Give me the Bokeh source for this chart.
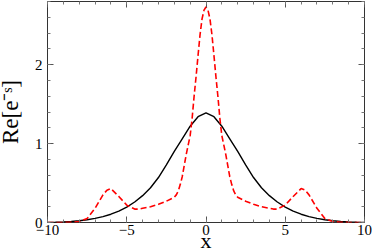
from bokeh.plotting import figure
from bokeh.models import LinearAxis, SingleIntervalTicker
from bokeh.embed import file_html
from bokeh.resources import INLINE

# ---- data ----
x_black = [-10, -9.5, -9, -8.5, -8, -7.5, -7, -6.5, -6, -5.5, -5, -4.5, -4, -3.5, -3, -2.5, -2, -1.5, -1, -0.5,
           0, 0.5, 1, 1.5, 2, 2.5, 3, 3.5, 4, 4.5, 5, 5.5, 6, 6.5, 7, 7.5, 8, 8.5, 9, 9.5, 10]
y_black = [0.001, 0.003, 0.007, 0.013, 0.022, 0.035, 0.052, 0.075, 0.105, 0.145, 0.195, 0.26, 0.34, 0.44, 0.57, 0.73, 0.90, 1.06, 1.22, 1.34,
           1.39, 1.34, 1.22, 1.06, 0.90, 0.73, 0.57, 0.44, 0.34, 0.26, 0.195, 0.145, 0.105, 0.075, 0.052, 0.035, 0.022, 0.013, 0.007, 0.003, 0.001]

x_red = [-10, -9, -8.5, -8, -7.5, -7, -6.5, -6.25, -6, -5.5, -5, -4.5, -4.25, -4, -3.5, -3, -2.5, -2, -1.875, -1.75, -1.625, -1.5,
         -1.375, -1.25, -1.125, -1, -0.875, -0.75, -0.625, -0.5, -0.375, -0.25, -0.125, 0,
         0.125, 0.25, 0.375, 0.5, 0.625, 0.75, 0.875, 1, 1.125, 1.25, 1.375, 1.5, 1.625, 1.75, 1.875, 2,
         2.5, 3, 3.5, 4, 4.25, 4.5, 5, 5.5, 6, 6.25, 6.5, 7, 7.5, 8, 8.5, 9, 10]
y_red = [0.0, 0.001, 0.004, 0.012, 0.05, 0.18, 0.35, 0.41, 0.43, 0.33, 0.22, 0.17, 0.17, 0.18, 0.20, 0.23, 0.27, 0.32, 0.35, 0.40, 0.48, 0.58,
         0.72, 0.86, 0.98, 1.10, 1.32, 1.60, 1.85, 2.12, 2.38, 2.58, 2.69, 2.73,
         2.69, 2.58, 2.38, 2.12, 1.85, 1.60, 1.32, 1.10, 0.98, 0.86, 0.72, 0.58, 0.48, 0.40, 0.35, 0.32,
         0.27, 0.23, 0.20, 0.18, 0.17, 0.17, 0.22, 0.33, 0.43, 0.41, 0.35, 0.18, 0.05, 0.012, 0.004, 0.001, 0.0]

x_major_ticks = [-10, -5, 0, 5, 10]
y_major_ticks = [0, 1, 2]
x_label = "x"
y_label = "Re[e\u207b\u02e2]"

FONT = "Liberation Serif"

p = figure(width=378, height=263, x_range=(-10, 10), y_range=(0, 2.8),
           output_backend="svg", toolbar_location=None,
           min_border_left=47, min_border_right=8, min_border_top=5, min_border_bottom=37)
p.margin = (-4, -4, -4, -6)
p.background_fill_color = "white"
p.border_fill_color = "white"
p.xgrid.visible = False
p.ygrid.visible = False
p.outline_line_color = "#333333"
p.outline_line_width = 1

def style_axis(ax, interval, ticks, show_labels):
    ax.ticker = SingleIntervalTicker(interval=interval, num_minor_ticks=5)
    ax.axis_line_color = None
    ax.major_tick_in = 6
    ax.major_tick_out = 0
    ax.minor_tick_in = 3
    ax.minor_tick_out = 0
    ax.major_tick_line_color = "#555555"
    ax.minor_tick_line_color = "#777777"
    ax.major_label_text_font = FONT
    ax.major_label_text_color = "black"
    ax.major_label_text_font_size = "15px"
    ax.axis_label_text_font = FONT
    ax.axis_label_text_font_style = "normal"
    ax.axis_label_text_color = "black"
    ax.axis_label_text_font_size = "22px"
    if not show_labels:
        ax.major_label_overrides = {t: "" for t in ticks}
        ax.major_label_standoff = 0

style_axis(p.xaxis[0], 5, x_major_ticks, True)
style_axis(p.yaxis[0], 1, y_major_ticks, True)
p.xaxis[0].major_label_standoff = 2
p.yaxis[0].major_label_standoff = 5
p.xaxis[0].axis_label = x_label
p.yaxis[0].axis_label = y_label
p.yaxis[0].axis_label_text_font_size = "23px"
p.xaxis[0].axis_label_standoff = -10
p.yaxis[0].axis_label_standoff = 9

top = LinearAxis()
style_axis(top, 5, x_major_ticks, False)
right = LinearAxis()
style_axis(right, 1, y_major_ticks, False)
p.add_layout(top, "above")
p.add_layout(right, "right")

p.line(x_black, y_black, line_color="black", line_width=1.4)
p.line(x_red, y_red, line_color="#ff0000", line_width=1.6, line_dash="6 3")

open("out.html", "w").write(file_html(p, INLINE))
